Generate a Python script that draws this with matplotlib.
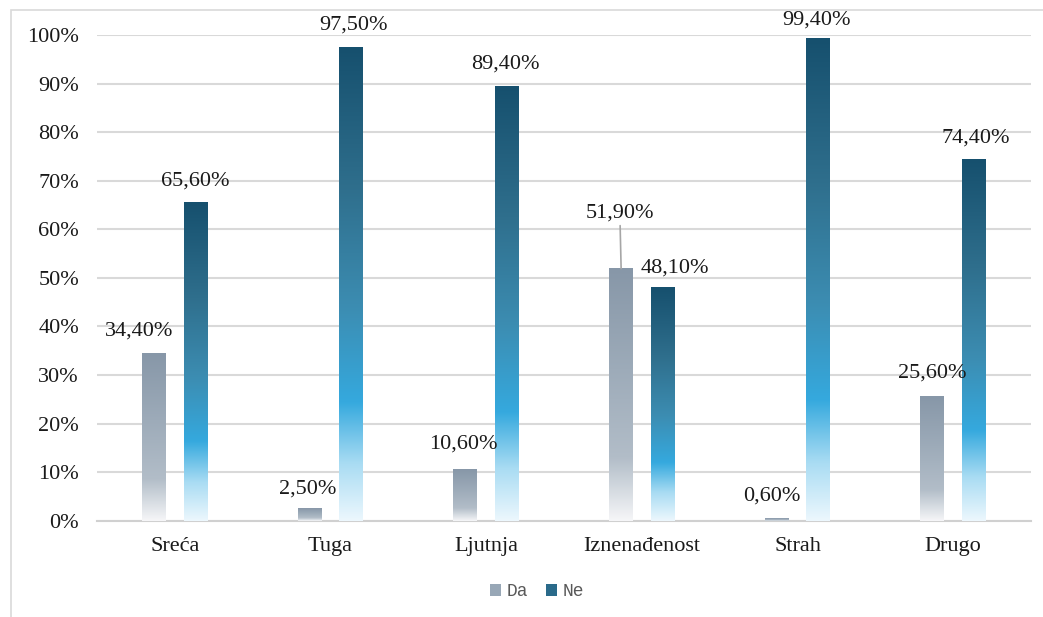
import numpy as np
import matplotlib
matplotlib.use("Agg")
import matplotlib.pyplot as plt
from matplotlib.colors import LinearSegmentedColormap
from matplotlib.patches import Patch, Rectangle
from matplotlib.ticker import FuncFormatter
from matplotlib.font_manager import FontProperties

# data
categories = ["Sreća", "Tuga", "Ljutnja", "Iznenađenost", "Strah", "Drugo"]
da = [34.4, 2.5, 10.6, 51.9, 0.6, 25.6]
ne = [65.6, 97.5, 89.4, 48.1, 99.4, 74.4]
series_names = ["Da", "Ne"]

# label offsets in pixels (dx, dy above bar top)
da_off = [(-15, 23), (-2, 20), (-2, 25), (-1, 56), (-5, 22), (0, 23)]
ne_off = [(0, 21), (2, 22), (-1, 22), (12, 19), (-2, 18), (2, 21)]

# gradients (bottom -> top)
cmap_da = LinearSegmentedColormap.from_list("da", [
    (0.0, "#f6f6f8"), (0.12, "#d5dbe1"), (0.25, "#b2bdc8"),
    (0.6, "#9dabb9"), (1.0, "#8797a8")])
cmap_ne = LinearSegmentedColormap.from_list("ne", [
    (0.0, "#ecf7fd"), (0.12, "#a9dcf3"), (0.25, "#35a9de"),
    (0.45, "#3c8db2"), (0.7, "#2f6f8d"), (1.0, "#16506e")])

plt.rcParams['font.family'] = ['Liberation Serif', 'DejaVu Serif']

fig = plt.figure(figsize=(10.43, 6.17), dpi=100)
ax = fig.add_axes([97/1043, 1 - 520.7/617, (1031-97)/1043, (520.7-35)/617])

# outer border
fig.patches.append(Rectangle((11/1043, -0.05), 1.0, 1 - 10/617 + 0.05,
                             transform=fig.transFigure, fill=False,
                             edgecolor="#d9d9d9", linewidth=1.2))

x = np.arange(len(categories))
w = 0.154
off = 0.133
px = 72 / 100.0  # pixels to points

grad = np.linspace(0, 1, 256).reshape(-1, 1)
bars_da = ax.bar(x - off, da, w, color="none", edgecolor="none", zorder=3)
bars_ne = ax.bar(x + off, ne, w, color="none", edgecolor="none", zorder=3)

for bars, cm in ((bars_da, cmap_da), (bars_ne, cmap_ne)):
    for b in bars:
        x0, y0 = b.get_x(), b.get_y()
        ax.imshow(grad, cmap=cm, origin="lower", aspect="auto",
                  extent=(x0, x0 + b.get_width(), y0, y0 + b.get_height()),
                  zorder=3, interpolation="bilinear")

for bars, vals, offs in ((bars_da, da, da_off), (bars_ne, ne, ne_off)):
    for b, v, (dx, dy) in zip(bars, vals, offs):
        txt = ("%.2f%%" % v).replace(".", ",")
        xc = b.get_x() + b.get_width() / 2
        if dy > 40:
            ax.annotate("", xy=(xc, v), xytext=(dx * px, (dy - 13) * px),
                        textcoords="offset points",
                        arrowprops=dict(arrowstyle="-", color="#a6a6a6", lw=1.2,
                                        shrinkA=0, shrinkB=0), zorder=4)
        ax.annotate(txt, xy=(xc, v), xytext=(dx * px, dy * px),
                    textcoords="offset points", ha="center", va="center",
                    fontsize=16, color="#1a1a1a", zorder=5, annotation_clip=False)

ax.set_xlim(-0.5, len(categories) - 0.5)
ax.set_ylim(0, 100)
ax.set_yticks(np.arange(0, 101, 10))
ax.yaxis.set_major_formatter(FuncFormatter(lambda v, p: "%d%%" % v))
ax.set_xticks(x)
ax.set_xticklabels(categories)
ax.tick_params(axis="y", length=0, pad=13, labelsize=16, labelcolor="#1a1a1a")
ax.tick_params(axis="x", length=0, pad=12, labelsize=16, labelcolor="#1a1a1a")
ax.grid(axis="y", color="#d9d9d9", linewidth=1.5, zorder=0)
ax.set_axisbelow(True)
for s in ["top", "right", "left"]:
    ax.spines[s].set_visible(False)
ax.spines["bottom"].set_color("#d0d0d0")
ax.spines["bottom"].set_linewidth(1.5)

handles = [Patch(facecolor="#98a7b6", edgecolor="none"),
           Patch(facecolor="#2a6a8a", edgecolor="none")]
mono = FontProperties(family=["Liberation Mono", "DejaVu Sans Mono"], size=13)
leg = fig.legend(handles, series_names, loc="center", bbox_to_anchor=(537/1043, 1 - 592/617),
                 ncol=2, frameon=False, handlelength=0.6, handleheight=0.6,
                 handletextpad=0.3, columnspacing=1.0, prop=mono)
for t in leg.get_texts():
    t.set_color("#595959")
    t.set_fontproperties(mono)

fig.savefig("out.png", dpi=100)
